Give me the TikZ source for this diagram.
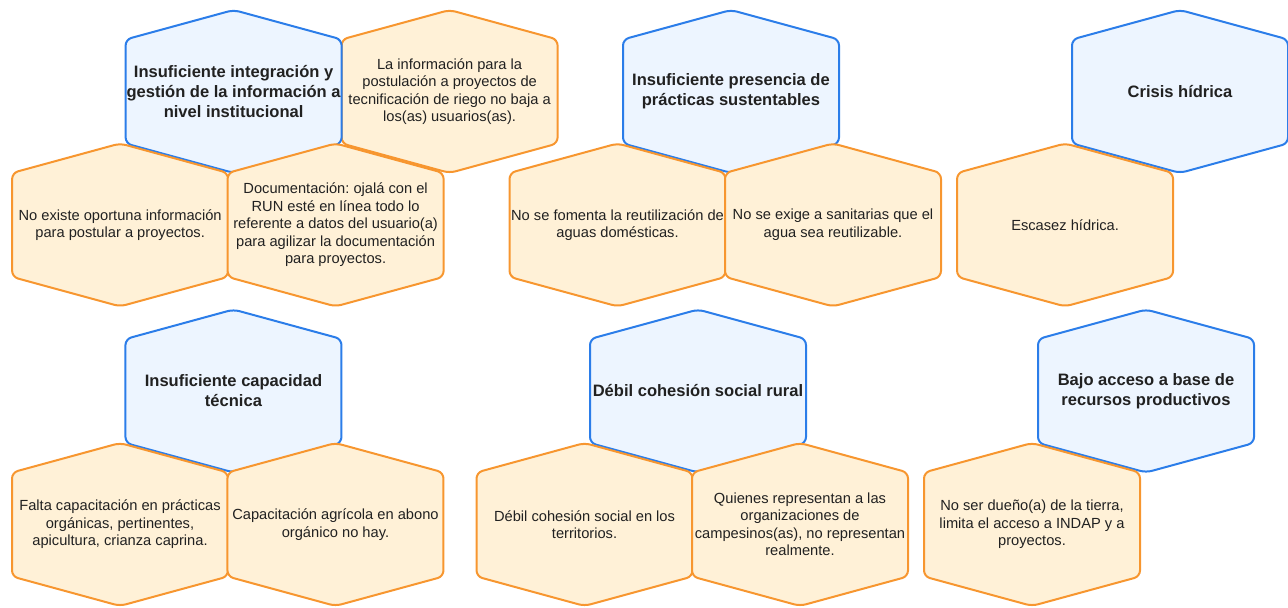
\documentclass[tikz,border=0pt]{standalone}
\usepackage{fontspec}
\setmainfont{Liberation Sans}
\frenchspacing
\usetikzlibrary{positioning, backgrounds}
\definecolor{causeline}{HTML}{2B7DE9}
\definecolor{causefill}{HTML}{EDF5FF}
\definecolor{effectline}{HTML}{F7962F}
\definecolor{effectfill}{HTML}{FFF1D7}
\tikzstyle{cell} = [align=center, inner sep=0pt, text=black!87]
\tikzstyle{cause} = [cell, font=\fontsize{12.4}{15}\selectfont\bfseries]
\tikzstyle{effect} = [cell, font=\fontsize{11}{13.1}\selectfont]
\tikzstyle{hex} = [line width=1.5pt, rounded corners=4.5pt]
\tikzstyle{cause hex} = [hex, draw=causeline, fill=causefill]
\tikzstyle{effect hex} = [hex, draw=effectline, fill=effectfill]
\newcommand*{\hexat}[2]{%
    \path [#2] (#1.center) +(0,61.1pt) -- +(81pt,39pt) -- +(81pt,-39pt)
        -- +(0,-61.1pt) -- +(-81pt,-39pt) -- +(-81pt,39pt) -- cycle;}

\begin{document}
\begin{tikzpicture}[on grid]
    \useasboundingbox (0,0) rectangle (966pt,-455.25pt);

    % Top row.
    \node (integracion) [cause] at (175.2pt,-68.6pt) {Insuficiente integración y\\gestión de la información a\\nivel institucional};
    \node (postulacion) [effect, right=162pt of integracion] {La información para la\\postulación a proyectos de\\tecnificación de riego no baja a\\los(as) usuarios(as).};
    \node (oportuna) [effect, below left=100.1pt and 85.1pt of integracion] {No existe oportuna información\\para postular a proyectos.};
    \node (documentos) [effect, below right=100.1pt and 76.5pt of integracion] {Documentación: ojalá con el\\RUN esté en línea todo lo\\referente a datos del usuario(a)\\para agilizar la documentación\\para proyectos.};

    \node (practicas) [cause] at (548.25pt,-68.6pt) {Insuficiente presencia de\\prácticas sustentables};
    \node (fomento) [effect, below left=100.1pt and 85.1pt of practicas] {No se fomenta la reutilización de\\aguas domésticas.};
    \node (sanitarias) [effect, below right=100.1pt and 76.5pt of practicas] {No se exige a sanitarias que el\\agua sea reutilizable.};

    \node (crisis) [cause] at (885pt,-68.6pt) {Crisis hídrica};
    \node (escasez) [effect, below left=100.1pt and 86.2pt of crisis] {Escasez hídrica.};

    % Bottom row.
    \node (capacidad) [cause] at (175.1pt,-293.25pt) {Insuficiente capacidad\\técnica};
    \node (organicas) [effect, below left=100.1pt and 85.1pt of capacidad] {Falta capacitación en prácticas\\orgánicas, pertinentes,\\apicultura, crianza caprina.};
    \node (abono) [effect, below right=100.1pt and 76.5pt of capacidad] {Capacitación agrícola en abono\\orgánico no hay.};

    \node (cohesion) [cause] at (523.5pt,-293.25pt) {Débil cohesión social rural};
    \node (territorios) [effect, below left=100.1pt and 85.1pt of cohesion] {Débil cohesión social en los\\territorios.};
    \node (campesinos) [effect, below right=100.1pt and 76.5pt of cohesion] {Quienes representan a las\\organizaciones de\\campesinos(as), no representan\\realmente.};

    \node (recursos) [cause] at (859.5pt,-293.25pt) {Bajo acceso a base de\\recursos productivos};
    \node (tierra) [effect, below left=100.1pt and 85.5pt of recursos] {No ser dueño(a) de la tierra,\\limita el acceso a INDAP y a\\proyectos.};

    % Hexagons.
    \begin{pgfonlayer}{background}
        \foreach \n/\k in {postulacion/effect, integracion/cause, oportuna/effect, documentos/effect,
                practicas/cause, fomento/effect, sanitarias/effect, crisis/cause, escasez/effect,
                capacidad/cause, organicas/effect, abono/effect, cohesion/cause, territorios/effect,
                campesinos/effect, recursos/cause, tierra/effect} {
            \hexat{\n}{\k\space hex}
        }
    \end{pgfonlayer}
\end{tikzpicture}
\end{document}
